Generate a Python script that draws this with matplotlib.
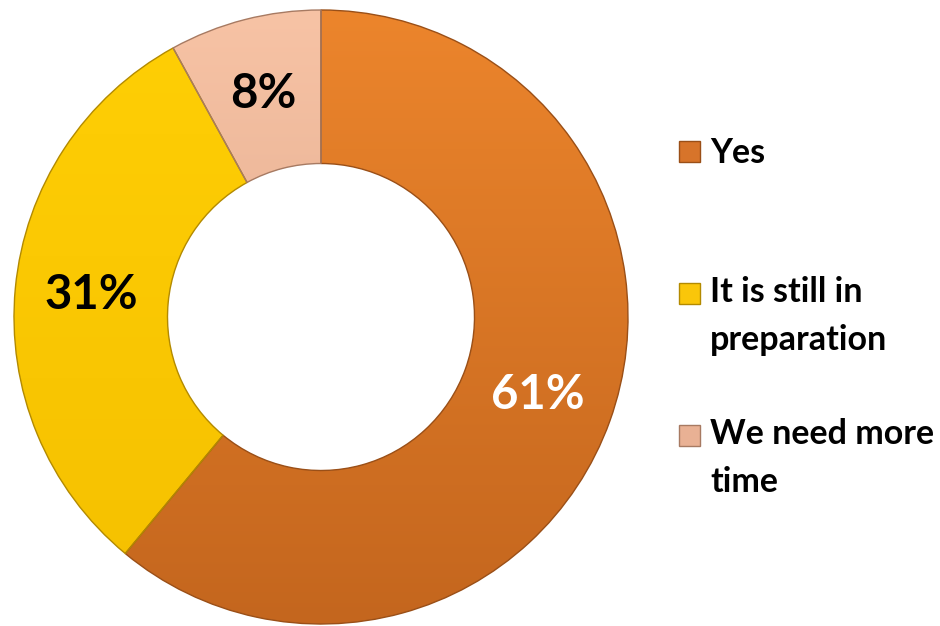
import numpy as np
import matplotlib.pyplot as plt
from matplotlib.patches import Rectangle
from matplotlib.colors import LinearSegmentedColormap

labels = ['Yes', 'It is still in\npreparation', 'We need more\ntime']
values = [61, 31, 8]
pct_labels = ['61%', '31%', '8%']
# light (top) / dark (bottom) shade of each slice
light = ['#EC852C', '#FFCF05', '#F7C3A5']
dark = ['#C4661E', '#F5C000', '#D9A184']
legend_fill = ['#D7742A', '#FAC60A', '#E9B194']
edge_colors = ['#9A4F17', '#B38A00', '#A77A62']
text_colors = ['white', 'black', 'black']

plt.rcParams['font.family'] = ['Lato', 'DejaVu Sans']

fig = plt.figure(figsize=(9.4, 6.26), dpi=100)
ax = fig.add_axes([14 / 940, 2 / 626, 614 / 940, 614 / 626])

wedges, _ = ax.pie(values, colors=dark, startangle=90, counterclock=False,
                   radius=1.0, wedgeprops=dict(width=0.5, linewidth=1.0))

# vertical gradient inside each slice
grad = np.linspace(0, 1, 256).reshape(-1, 1)
for w, lo, hi, ec in zip(wedges, light, dark, edge_colors):
    w.set_edgecolor(ec)
    cmap = LinearSegmentedColormap.from_list('g', [lo, hi])
    im = ax.imshow(grad, cmap=cmap, extent=[-1, 1, -1, 1], origin='upper',
                   aspect='auto', zorder=w.get_zorder() + 0.1)
    im.set_clip_path(w)
    w.set_zorder(w.get_zorder() + 0.2)
    w.set_facecolor('none')

# percentage labels
ang = 90
for v, txt, tc in zip(values, pct_labels, text_colors):
    mid = ang - v * 360 / 100 / 2
    ang -= v * 360 / 100
    r = 0.75
    x = r * np.cos(np.radians(mid))
    y = r * np.sin(np.radians(mid))
    ax.text(x, y, txt, ha='center', va='center', fontsize=34,
            fontweight='bold', color=tc, zorder=10)
ax.set_xlim(-1, 1)
ax.set_ylim(-1, 1)
ax.set_aspect('equal')
ax.axis('off')

# legend drawn by hand
leg_y = [153, 316, 458]
for lab, fc, ec, yy in zip(labels, legend_fill, edge_colors, leg_y):
    nlines = lab.count('\n') + 1
    top_line = yy - (nlines - 1) * 21.5
    fig.patches.append(Rectangle((679 / 940, 1 - (top_line + 9) / 626), 21 / 940, 21 / 626,
                                 transform=fig.transFigure, facecolor=fc,
                                 edgecolor=ec, linewidth=1))
    fig.text(710 / 940, 1 - yy / 626, lab, ha='left', va='center',
             fontsize=24.5, fontweight='bold', linespacing=1.58)

fig.savefig('out.png', dpi=100)
